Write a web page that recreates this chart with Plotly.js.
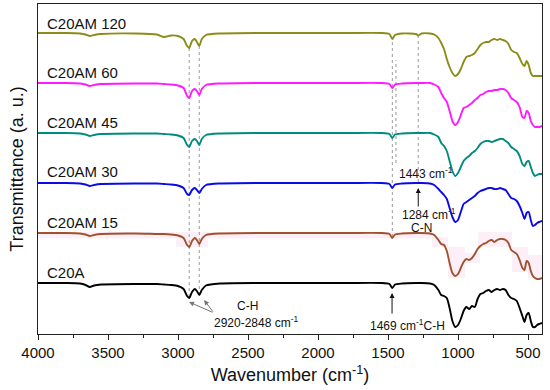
<!DOCTYPE html>
<html>
<head>
<meta charset="utf-8">
<script src="https://cdn.plot.ly/plotly-3.0.1.min.js"></script>
<style>html,body{margin:0;padding:0;background:#fff;}#chart{width:550px;height:390px;}</style>
</head>
<body>
<div id="chart"></div>
<script>
// Wavenumber grid (cm-1)
const wavenumber = [4000,3800,3700,3660,3630,3600,3550,3300,3150,3100,
  3050,3000,2960,2935,2920,2900,2880,2865,2848,2830,
  2800,2700,2400,1800,1550,1490,1469,1450,1400,1300,
  1284,1260,1200,1170,1140,1120,1100,1080,1060,1040,
  1020,1000,980,960,940,920,900,880,860,840,
  820,800,780,760,740,720,700,680,660,640,
  620,600,580,560,540,525,510,495,480,465,
  450,435,420,400];

// Offset transmittance (a. u.)
const C20A = [1.00,1.00,0.99,0.96,0.92,0.95,0.97,0.98,0.98,0.97,
  0.96,0.94,0.88,0.74,0.70,0.82,0.88,0.84,0.76,0.86,
  0.95,0.99,1.00,1.00,1.00,0.98,0.90,0.97,0.99,1.00,
  1.00,1.00,0.99,0.96,0.86,0.76,0.74,0.70,0.50,0.24,
  0.12,0.16,0.28,0.44,0.52,0.48,0.54,0.52,0.68,0.78,
  0.80,0.84,0.86,0.82,0.86,0.88,0.86,0.88,0.86,0.76,
  0.70,0.68,0.64,0.50,0.34,0.22,0.36,0.40,0.24,0.12,
  0.12,0.16,0.18,0.20];
const C20AM15 = [2.00,2.00,1.99,1.97,1.94,1.96,1.98,1.99,1.98,1.98,
  1.97,1.95,1.90,1.76,1.72,1.84,1.90,1.86,1.78,1.88,
  1.96,1.99,2.00,2.00,2.00,1.98,1.90,1.97,1.99,2.00,
  2.00,2.00,1.99,1.96,1.86,1.78,1.76,1.64,1.40,1.20,
  1.14,1.18,1.30,1.42,1.48,1.46,1.50,1.58,1.68,1.74,
  1.78,1.80,1.84,1.86,1.82,1.86,1.88,1.88,1.86,1.80,
  1.66,1.62,1.58,1.46,1.30,1.26,1.44,1.40,1.24,1.14,
  1.10,1.08,1.08,1.10];
const C20AM30 = [3.00,3.00,2.99,2.97,2.94,2.96,2.98,2.99,2.99,2.98,
  2.97,2.95,2.90,2.78,2.76,2.86,2.90,2.86,2.80,2.88,
  2.96,2.99,3.00,3.00,3.00,2.98,2.90,2.97,2.99,3.00,
  3.00,3.00,2.99,2.96,2.88,2.82,2.76,2.68,2.50,2.32,
  2.22,2.26,2.42,2.58,2.62,2.66,2.70,2.74,2.80,2.84,
  2.86,2.88,2.90,2.90,2.88,2.88,2.90,2.88,2.86,2.78,
  2.70,2.68,2.64,2.54,2.40,2.28,2.40,2.42,2.26,2.14,
  2.16,2.20,2.22,2.24];
const C20AM45 = [4.00,4.00,3.99,3.97,3.94,3.96,3.98,3.99,3.99,3.98,
  3.97,3.95,3.90,3.76,3.72,3.84,3.88,3.84,3.76,3.88,
  3.96,3.99,4.00,4.00,4.00,3.98,3.90,3.97,3.99,4.00,
  4.00,4.00,4.00,3.97,3.92,3.80,3.74,3.64,3.44,3.24,
  3.14,3.20,3.32,3.44,3.50,3.54,3.60,3.64,3.70,3.78,
  3.82,3.84,3.84,3.82,3.84,3.86,3.88,3.88,3.84,3.80,
  3.72,3.68,3.64,3.54,3.38,3.34,3.42,3.44,3.32,3.20,
  3.14,3.16,3.18,3.18];
const C20AM60 = [5.00,5.00,4.99,4.97,4.94,4.96,4.98,4.99,4.99,4.98,
  4.97,4.95,4.90,4.74,4.70,4.84,4.88,4.84,4.76,4.88,
  4.96,4.99,5.00,5.00,5.00,4.98,4.90,4.97,4.99,5.00,
  5.00,5.00,5.00,4.97,4.92,4.80,4.70,4.62,4.44,4.24,
  4.16,4.22,4.36,4.50,4.52,4.56,4.60,4.66,4.70,4.76,
  4.78,4.82,4.84,4.84,4.86,4.86,4.88,4.88,4.86,4.80,
  4.70,4.66,4.62,4.52,4.32,4.30,4.44,4.40,4.24,4.16,
  4.12,4.12,4.12,4.14];
const C20AM120 = [6.00,6.00,5.99,5.97,5.94,5.96,5.98,5.99,5.97,5.92,
  5.95,5.94,5.88,5.74,5.70,5.84,5.88,5.82,5.74,5.88,
  5.96,5.99,6.00,6.00,6.00,5.98,5.88,5.96,5.99,5.98,
  5.95,5.99,5.99,5.97,5.90,5.80,5.68,5.48,5.32,5.20,
  5.14,5.18,5.28,5.42,5.52,5.54,5.56,5.60,5.68,5.76,
  5.80,5.82,5.82,5.86,5.88,5.86,5.88,5.86,5.84,5.78,
  5.66,5.62,5.60,5.50,5.38,5.34,5.44,5.36,5.20,5.14,
  5.14,5.14,5.14,5.14];

const seriesNames = ["C20A","C20AM 15","C20AM 30","C20AM 45","C20AM 60","C20AM 120"];
const seriesData = [C20A, C20AM15, C20AM30, C20AM45, C20AM60, C20AM120];
const seriesColors = ["#000000","#a0522d","#0a0ae6","#008b80","#ff1aff","#8c8c1a"];
const labelY = [1.22, 2.22, 3.24, 4.22, 5.22, 6.2];

const traces = seriesData.map((ys, i) => ({
  x: wavenumber, y: ys, type: "scatter", mode: "lines", name: seriesNames[i],
  line: {color: seriesColors[i], width: 1.9, shape: "spline", smoothing: 0.6},
  hoverinfo: "skip"
}));

const FONT = "Liberation Sans, Arial, sans-serif";
const annFont = {family: FONT, size: 12, color: "#111"};

const annotations = seriesNames.map((n, i) => ({
  x: 3950, y: labelY[i], xref: "x", yref: "y", text: n, showarrow: false,
  xanchor: "left", yanchor: "middle", font: {family: FONT, size: 15, color: "#111"}
}));

annotations.push(
  {x: 1436, y: 3.2, xref: "x", yref: "y", text: "1443 cm<sup>-1</sup>", showarrow: false, xanchor: "left", font: annFont},
  {x: 1414, y: 2.38, xref: "x", yref: "y", text: "1284 cm<sup>-1</sup>", showarrow: false, xanchor: "left", font: annFont},
  {x: 1264, y: 2.1, xref: "x", yref: "y", text: "C-N", showarrow: false, font: annFont},
  {x: 1643, y: 0.16, xref: "x", yref: "y", text: "1469 cm<sup>-1</sup>C-H", showarrow: false, xanchor: "left", font: annFont},
  {x: 2507, y: 0.54, xref: "x", yref: "y", text: "C-H", showarrow: false, font: annFont},
  {x: 2436, y: 0.22, xref: "x", yref: "y", text: "2920-2848 cm<sup>-1</sup>", showarrow: false, font: annFont},
  // arrows
  {x: 1284, y: 2.9, xref: "x", yref: "y", ax: 0, ay: 20, text: "", showarrow: true, arrowhead: 2, arrowsize: 1, arrowwidth: 1, arrowcolor: "#111"},
  {x: 1471, y: 0.8, xref: "x", yref: "y", ax: 0, ay: 22, text: "", showarrow: true, arrowhead: 2, arrowsize: 1, arrowwidth: 1, arrowcolor: "#111"},
  {x: 2921, y: 0.62, xref: "x", yref: "y", ax: 25, ay: 11, text: "", showarrow: true, arrowhead: 2, arrowsize: 1, arrowwidth: 1, arrowcolor: "#777"},
  {x: 2814, y: 0.66, xref: "x", yref: "y", ax: 10, ay: 13, text: "", showarrow: true, arrowhead: 2, arrowsize: 1, arrowwidth: 1, arrowcolor: "#777"}
);

const dashLine = (x, y0, y1) => ({type: "line", xref: "x", yref: "y", x0: x, x1: x, y0: y0, y1: y1,
  line: {color: "#9a9a9a", width: 1, dash: "dot"}, layer: "below"});
const pink = (x0, x1, y0, y1) => ({type: "rect", xref: "x", yref: "y", x0: x0, x1: x1, y0: y0, y1: y1,
  fillcolor: "#fdeff8", line: {width: 0}, layer: "below"});

const shapes = [
  pink(4000, 1186, 1.89, 2.02),
  pink(3014, 2786, 1.72, 1.9),
  pink(1186, 1071, 1.72, 1.92),
  pink(1071, 950, 1.1, 1.72),
  pink(950, 843, 1.4, 1.6),
  pink(857, 614, 1.72, 2.02),
  pink(614, 500, 1.22, 1.72),
  pink(500, 400, 1.1, 1.56),
  dashLine(2920, 0.72, 5.74),
  dashLine(2848, 0.76, 5.74),
  dashLine(1469, 1.92, 5.9),
  dashLine(1443, 3.4, 5.46),
  dashLine(1284, 3.02, 6.0)
];

const layout = {
  width: 550, height: 390,
  margin: {l: 38, r: 8, t: 4, b: 56},
  paper_bgcolor: "#fff", plot_bgcolor: "#fff",
  showlegend: false,
  font: {family: FONT, color: "#111"},
  xaxis: {
    range: [4000, 400], tickvals: [4000,3500,3000,2500,2000,1500,1000,500],
    ticks: "outside", ticklen: 5, tickwidth: 1, tickcolor: "#222",
    minor: {dtick: 250, ticks: "outside", ticklen: 3, tickcolor: "#222"},
    showline: true, mirror: true, linecolor: "#222", linewidth: 1.2,
    showgrid: false, zeroline: false,
    tickfont: {family: FONT, size: 15, color: "#111"},
    title: {text: "Wavenumber (cm<sup>-1</sup>)", font: {family: FONT, size: 18, color: "#111"}, standoff: 8}
  },
  yaxis: {
    range: [-0.02, 6.58], showticklabels: false, ticks: "",
    showline: true, mirror: true, linecolor: "#222", linewidth: 1.2,
    showgrid: false, zeroline: false,
    title: {text: "Transmittance (a. u.)", font: {family: FONT, size: 18, color: "#111"}, standoff: 8}
  },
  annotations: annotations,
  shapes: shapes
};

Plotly.newPlot("chart", traces, layout, {displayModeBar: false, staticPlot: true});
</script>
</body>
</html>
